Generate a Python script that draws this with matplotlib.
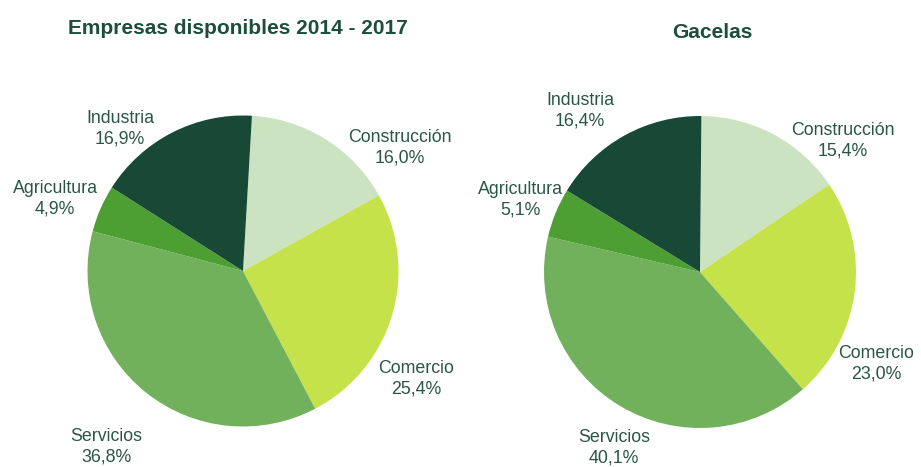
import matplotlib.pyplot as plt

plt.rcParams["font.family"] = ["Liberation Sans", "DejaVu Sans"]

sectores = ["Construcción", "Comercio", "Servicios", "Agricultura", "Industria"]
empresas = [16.0, 25.4, 36.8, 4.9, 16.9]
gacelas = [15.4, 23.0, 40.1, 5.1, 16.4]

colores = ["#CCE3C1", "#C5E24B", "#72B15B", "#4D9F33", "#174936"]
verde_titulo = "#1D4D3B"
verde_texto = "#2A5645"

W, H = 921, 467
fig = plt.figure(figsize=(W / 100, H / 100), dpi=100)


def pie_axes(cx, cy, r):
    return fig.add_axes([(cx - r) / W, (H - cy - r) / H, 2 * r / W, 2 * r / H])


def fmt(v):
    return f"{v:.1f}%".replace(".", ",")


# posiciones de las etiquetas en pixeles (centro del bloque)
pos_izq = [(400, 148), (416, 379), (106, 447), (55, 199), (120, 129)]
pos_der = [(843, 141), (876, 364), (614, 448), (520, 200), (580, 111)]

paneles = [
    (empresas, (243, 271, 155.5), 86.7, pos_izq, "Empresas disponibles 2014 - 2017", (238, 28)),
    (gacelas, (700, 272, 156), 89.5, pos_der, "Gacelas", (712, 32)),
]

for valores, (cx, cy, r), start, posiciones, titulo, tpos in paneles:
    ax = pie_axes(cx, cy, r)
    ax.pie(valores, colors=colores, startangle=start, counterclock=False,
           wedgeprops=dict(linewidth=0))
    ax.set_xlim(-1, 1)
    ax.set_ylim(-1, 1)
    ax.set_aspect("auto")
    ax.axis("off")
    for nombre, v, (px, py) in zip(sectores, valores, posiciones):
        fig.text(px / W, 1 - py / H, f"{nombre}\n{fmt(v)}", ha="center", va="center",
                 fontsize=12.8, color=verde_texto, linespacing=1.25)
    fig.text(tpos[0] / W, 1 - tpos[1] / H, titulo, ha="center", va="center",
             fontsize=15, fontweight="bold", color=verde_titulo)

fig.savefig("out.png", dpi=100)
